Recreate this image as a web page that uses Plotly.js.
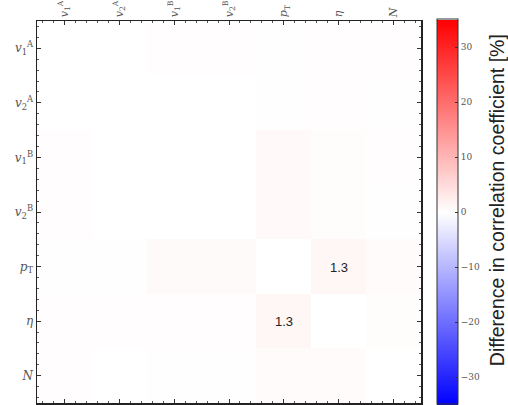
<!DOCTYPE html>
<html>
<head>
<meta charset="utf-8">
<script src="https://cdn.plot.ly/plotly-3.0.1.min.js"></script>
<style>html,body{margin:0;padding:0;background:#fff;}#chart{width:508px;height:405px;}</style>
</head>
<body>
<div id="chart"></div>
<script>
// Category labels (rows top-to-bottom, columns left-to-right)
const categories = [
  '<i>v</i><sub>1</sub><sup>A</sup>',
  '<i>v</i><sub>2</sub><sup>A</sup>',
  '<i>v</i><sub>1</sub><sup>B</sup>',
  '<i>v</i><sub>2</sub><sup>B</sup>',
  '<i>p</i><sub>T</sub>',
  '<i>η</i>',
  '<i>N</i>'
];
// Difference in correlation coefficient [%], one row per category
const row_v1A = [0.0, 0.0, 0.3, 0.3, 0.2, 0.3, 0.3];
const row_v2A = [0.0, 0.0, 0.0, 0.0, 0.1, 0.3, 0.1];
const row_v1B = [0.3, 0.0, 0.0, 0.0, 0.8, 0.4, 0.3];
const row_v2B = [0.3, 0.0, 0.0, 0.0, 0.8, 0.4, 0.1];
const row_pT  = [0.1, 0.1, 0.7, 0.7, 0.0, 1.3, 0.6];
const row_eta = [0.3, 0.3, 0.3, 0.3, 1.3, 0.0, 0.4];
const row_N   = [0.3, 0.0, 0.2, 0.2, 0.6, 0.6, 0.0];
const colorbarTicks = [-30, -20, -10, 0, 10, 20, 30];
const colorbarTitle = 'Difference in correlation coefficient [%]';

const z = [row_v1A, row_v2A, row_v1B, row_v2B, row_pT, row_eta, row_N];
const idx = categories.map((_, i) => i);
const text = z.map(r => r.map(v => Math.abs(v) >= 1 ? v.toFixed(1) : ''));

const trace = {
  type: 'heatmap',
  x: idx, y: idx, z: z,
  text: text,
  texttemplate: '%{text}',
  textfont: {family: 'Liberation Sans, Arial, sans-serif', size: 13, color: '#222'},
  zmin: -35, zmax: 35,
  colorscale: [[0, 'rgb(0,0,255)'], [0.5, 'rgb(255,255,255)'], [1, 'rgb(255,0,0)']],
  hoverinfo: 'none',
  colorbar: {
    x: 1.042, xanchor: 'left', xpad: 0,
    y: 0.5, yanchor: 'middle', ypad: 0,
    thickness: 21, thicknessmode: 'pixels',
    len: 385, lenmode: 'pixels',
    outlinewidth: 1, outlinecolor: '#333',
    tickmode: 'array', tickvals: colorbarTicks,
    ticktext: colorbarTicks.map(v => v < 0 ? '\u2212' + Math.abs(v) : String(v)),
    ticks: 'inside', ticklen: 3, tickcolor: '#333',
    tickfont: {family: 'DejaVu Serif, serif', size: 9, color: '#555'}
  }
};

const axisCommon = {
  tickmode: 'array', tickvals: idx, ticktext: categories,
  range: [-0.5, 6.5],
  showline: true, linecolor: '#222', linewidth: 1.5, mirror: 'ticks',
  ticks: 'inside', ticklen: 4, tickcolor: '#333', tickwidth: 1,
  minor: {ticks: 'inside', ticklen: 2, dtick: 0.2, tick0: 0, tickcolor: '#555', showgrid: false},
  showgrid: false, zeroline: false,
  tickfont: {family: 'DejaVu Serif, serif', size: 12, color: '#555'}
};

const layout = {
  width: 508, height: 405,
  margin: {l: 37, r: 87, t: 21, b: 2},
  paper_bgcolor: '#fff', plot_bgcolor: '#fff',
  xaxis: Object.assign({}, axisCommon, {
    side: 'top', tickangle: -90,
    tickfont: {family: 'DejaVu Serif, serif', size: 11, color: '#555'}
  }),
  yaxis: Object.assign({}, axisCommon, {range: [6.5, -0.5]}),
  annotations: [{
    text: colorbarTitle, textangle: -90,
    xref: 'paper', yref: 'paper', x: 1.198, y: 0.531,
    xanchor: 'center', yanchor: 'middle', showarrow: false,
    font: {family: 'Liberation Sans, Arial, sans-serif', size: 19.5, color: '#222'}
  }],
  showlegend: false
};

Plotly.newPlot('chart', [trace], layout, {displayModeBar: false, staticPlot: true});
</script>
</body>
</html>
